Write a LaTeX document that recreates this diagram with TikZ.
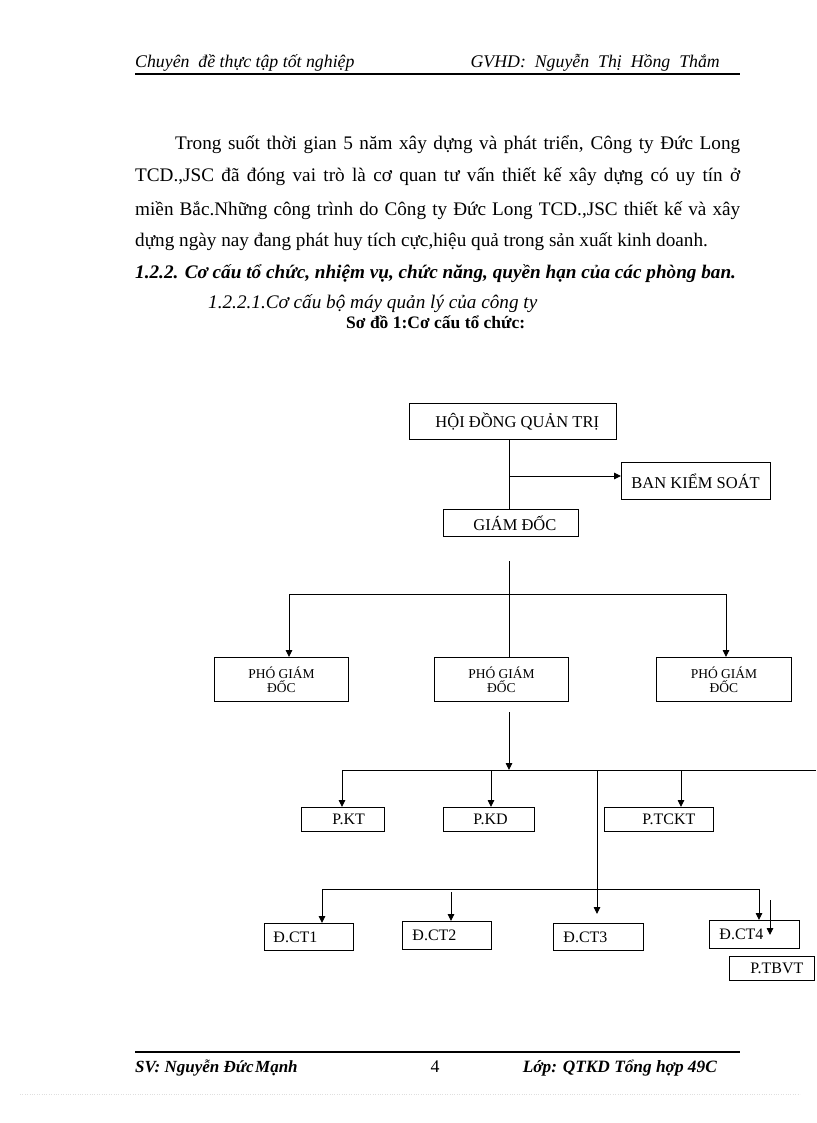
\documentclass[tikz,border=0pt]{standalone}
\usepackage{fontspec}
\setmainfont{Liberation Serif}
\usetikzlibrary{arrows.meta}
\begin{document}
\begin{tikzpicture}[x=1pt,y=-1pt,
  box/.style={draw, line width=0.9pt, inner sep=0pt, anchor=north west},
  bigtxt/.style={font=\fontsize{16.5}{18}\selectfont},
  pgdtxt/.style={font=\fontsize{13.5}{14}\selectfont, align=center},
  smtxt/.style={font=\fontsize{16}{17}\selectfont},
  ln/.style={line width=0.9pt},
  arr/.style={line width=0.9pt, -{Triangle[length=7pt,width=6.5pt]}},
  body/.style={anchor=base west, inner sep=0pt, font=\fontsize{19.2}{22}\selectfont},
  rule/.style={line width=1.8pt}
]
\useasboundingbox[fill=white] (0,0) rectangle (816,1123);

% header
\node[anchor=base west, inner sep=0pt, font=\fontsize{17.8}{20}\selectfont\itshape] (hl) at (135,68) {Chuyên\ \ đề thực tập tốt nghiệp};
\node[anchor=base east, inner sep=0pt, font=\fontsize{17.8}{20}\selectfont\itshape] (hr) at (720,68) {GVHD:\ \ Nguyễn\ \ Thị\ \ Hồng\ \ Thắm};
\draw[rule] (135,74) -- (740,74);

% paragraph
\node[body] (p1) at (175,150) {\makebox[565pt][s]{Trong suốt thời gian 5 năm xây dựng và phát triển, Công ty Đức Long}};
\node[body] (p2) at (135,182) {\makebox[605pt][s]{TCD.,JSC đã đóng vai trò là cơ quan tư vấn thiết kế xây dựng có uy tín ở}};
\node[body] (p3) at (135,215) {\makebox[605pt][s]{miền Bắc.Những công trình do Công ty Đức Long TCD.,JSC thiết kế và xây}};
\node[body] (p4) at (135,247) {dựng ngày nay đang phát huy tích cực,hiệu quả trong sản xuất kinh doanh.};
\node[body, font=\fontsize{19.2}{22}\selectfont\bfseries\itshape] (hd) at (135,278) {1.2.2. Cơ cấu tổ chức, nhiệm vụ, chức năng, quyền hạn của các phòng ban.};
\node[body, font=\fontsize{19.2}{22}\selectfont\itshape] (sub) at (208,308) {1.2.2.1.Cơ cấu bộ máy quản lý của công ty};
\node[body, font=\fontsize{17.5}{19}\selectfont\bfseries] (cap) at (346,328) {Sơ đồ 1:Cơ cấu tổ chức:};

% boxes
\node[box, bigtxt, minimum width=207pt, minimum height=36pt] (hdqt) at (409,403) {\makebox[207pt][l]{\hspace{26pt}HỘI ĐỒNG QUẢN TRỊ}};
\node[box, bigtxt, minimum width=149pt, minimum height=37pt] (bks) at (621,462) {\makebox[149pt][l]{\hspace{10pt}BAN KIỂM SOÁT}};
\node[box, bigtxt, minimum width=135pt, minimum height=27pt] (gd) at (443,509) {\makebox[135pt][l]{\hspace{30pt}GIÁM ĐỐC}};

\node[box, pgdtxt, minimum width=134pt, minimum height=44pt] (pgd1) at (214,657) {PHÓ GIÁM\\ĐỐC};
\node[box, pgdtxt, minimum width=134pt, minimum height=44pt] (pgd2) at (434,657) {PHÓ GIÁM\\ĐỐC};
\node[box, pgdtxt, minimum width=135pt, minimum height=44pt] (pgd3) at (656,657) {PHÓ GIÁM\\ĐỐC};

\node[box, smtxt, minimum width=83pt, minimum height=24pt] (pkt) at (301,807) {\makebox[83pt][l]{\hspace{31pt}P.KT}};
\node[box, smtxt, minimum width=91pt, minimum height=24pt] (pkd) at (443,807) {\makebox[91pt][l]{\hspace{30pt}P.KD}};
\node[box, smtxt, minimum width=109pt, minimum height=24pt] (ptckt) at (604,807) {\makebox[109pt][l]{\hspace{38pt}P.TCKT}};

\node[box, smtxt, minimum width=89pt, minimum height=27pt] (dct1) at (264,923) {\makebox[89pt][l]{\hspace{9pt}Đ.CT1}};
\node[box, smtxt, minimum width=89pt, minimum height=28pt] (dct2) at (402,921) {\makebox[89pt][l]{\hspace{10pt}Đ.CT2}};
\node[box, smtxt, minimum width=90pt, minimum height=27pt] (dct3) at (553,923) {\makebox[90pt][l]{\hspace{10pt}Đ.CT3}};
\node[box, smtxt, minimum width=90pt, minimum height=28pt] (dct4) at (709,920) {\makebox[90pt][l]{\hspace{10pt}Đ.CT4}};
\node[box, smtxt, minimum width=85pt, minimum height=24pt] (ptbvt) at (729,956) {\makebox[85pt][l]{\hspace{21pt}P.TBVT}};

% connectors
\coordinate (t1) at (509,0);
\draw[ln] (t1 |- hdqt.south) -- (t1 |- gd.north);
\coordinate (k1) at (509,476);
\draw[arr] (k1) -- (bks.west |- k1);

\coordinate (g0) at (509,561);
\draw[ln] (g0) -- (g0 |- pgd2.north);
\coordinate (b1l) at (289,594);
\coordinate (b1r) at (726,594);
\draw[ln] (b1l) -- (b1r);
\draw[arr] (b1l) -- (b1l |- pgd1.north);
\draw[arr] (b1r) -- (b1r |- pgd3.north);

\coordinate (g2) at (509,712);
\coordinate (b2) at (509,770);
\draw[arr] (g2) -- (b2);
\coordinate (b2l) at (342,770);
\coordinate (b2e) at (816,770);
\draw[ln] (b2l) -- (b2e);
\draw[arr] (b2l) -- (b2l |- pkt.north);
\coordinate (b2d) at (491,770);
\draw[arr] (b2d) -- (b2d |- pkd.north);
\coordinate (b2t) at (681,770);
\draw[arr] (b2t) -- (b2t |- ptckt.north);
\coordinate (b2c) at (597,770);
\coordinate (c3) at (597,914);
\draw[arr] (b2c) -- (c3);

\coordinate (b3l) at (322,889);
\coordinate (b3r) at (759,889);
\draw[ln] (b3l) -- (b3r);
\draw[arr] (b3l) -- (b3l |- dct1.north);
\coordinate (c2) at (451,892);
\draw[arr] (c2) -- (c2 |- dct2.north);
\draw[arr] (b3r) -- (b3r |- dct4.north);
\coordinate (e1) at (770,900);
\coordinate (e2) at (770,935);
\draw[arr] (e1) -- (e2);

% footer
\draw[rule] (135,1052) -- (740,1052);
\node[anchor=base west, inner sep=0pt, font=\fontsize{17}{20}\selectfont\bfseries\itshape] (fl) at (135,1072) {SV: Nguyễn Đức\hspace{1.5pt}Mạnh};
\node[anchor=base, inner sep=0pt, font=\fontsize{17.8}{20}\selectfont] (fn) at (435,1072) {4};
\node[anchor=base east, inner sep=0pt, font=\fontsize{17.3}{20}\selectfont\bfseries\itshape] (fr) at (717,1072) {Lớp: QTKD Tổng hợp 49C};
\draw[gray!25, dotted] (20,1094) -- (800,1094);
\end{tikzpicture}
\end{document}
